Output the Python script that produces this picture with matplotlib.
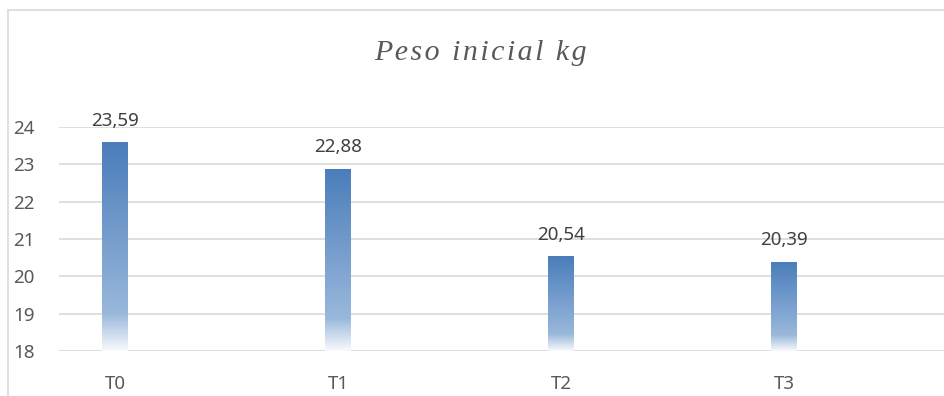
import matplotlib.pyplot as plt
import numpy as np
from matplotlib.colors import LinearSegmentedColormap
from matplotlib.lines import Line2D

categorias = ["T0", "T1", "T2", "T3"]
peso = [23.59, 22.88, 20.54, 20.39]
etiquetas = ["23,59", "22,88", "20,54", "20,39"]
y_ticks = [18, 19, 20, 21, 22, 23, 24]

fig = plt.figure(figsize=(9.44, 3.96), dpi=100)
ax = fig.add_axes([59 / 944, 45 / 396, 1 - 59 / 944, 224 / 396])

# degradado azul -> blanco como en Excel
cmap = LinearSegmentedColormap.from_list(
    "excel_azul",
    [(0.0, (0.97, 0.98, 0.99)), (0.18, (0.60, 0.72, 0.86)), (1.0, (0.29, 0.49, 0.73))],
)
grad = np.linspace(0, 1, 256).reshape(-1, 1)

x = np.arange(len(categorias))
ancho = 0.115
barras = ax.bar(x, np.array(peso) - 18, bottom=18, width=ancho, color="none", zorder=3)
for b in barras:
    x0, y0 = b.get_x(), b.get_y()
    im = ax.imshow(grad, cmap=cmap, origin="lower", aspect="auto",
                   extent=[x0, x0 + b.get_width(), y0, y0 + b.get_height()], zorder=3)
    im.set_clip_path(b)

for xi, v, t in zip(x, peso, etiquetas):
    ax.annotate(t, (xi, v), xytext=(0, 9), textcoords="offset points",
                ha="center", va="bottom", fontsize=13.5, color="#404040",
                family="Noto Sans")

ax.set_xlim(-56 / 223, (944 - 115) / 223)
ax.set_ylim(18, 24)
ax.set_yticks(y_ticks)
ax.set_xticks(x)
ax.set_xticklabels(categorias)
ax.yaxis.grid(True, color="#D9D9D9", lw=1.2, zorder=0)
ax.set_axisbelow(True)
for s in ax.spines.values():
    s.set_visible(False)
ax.tick_params(axis="both", length=0, labelsize=13.5, labelcolor="#595959")
ax.tick_params(axis="x", pad=17)
for lab in ax.get_xticklabels() + ax.get_yticklabels():
    lab.set_family("Noto Sans")
for lab in ax.get_yticklabels():
    lab.set_horizontalalignment("left")
    lab.set_x(-46 / 885)
ax.yaxis.set_tick_params(pad=0)

titulo = "\u200a".join("Peso inicial kg")
fig.text(480 / 944, 1 - 53 / 396, titulo, ha="center", va="center",
         fontsize=21.5, style="italic", family=["Liberation Serif", "DejaVu Serif"],
         color="#595959")

# borde del gráfico
fig.add_artist(Line2D([8 / 944, 8 / 944], [0, 1 - 10 / 396], color="#D9D9D9", lw=1.2))
fig.add_artist(Line2D([8 / 944, 1], [1 - 10 / 396, 1 - 10 / 396], color="#D9D9D9", lw=1.2))

fig.savefig("out.png", dpi=100)
